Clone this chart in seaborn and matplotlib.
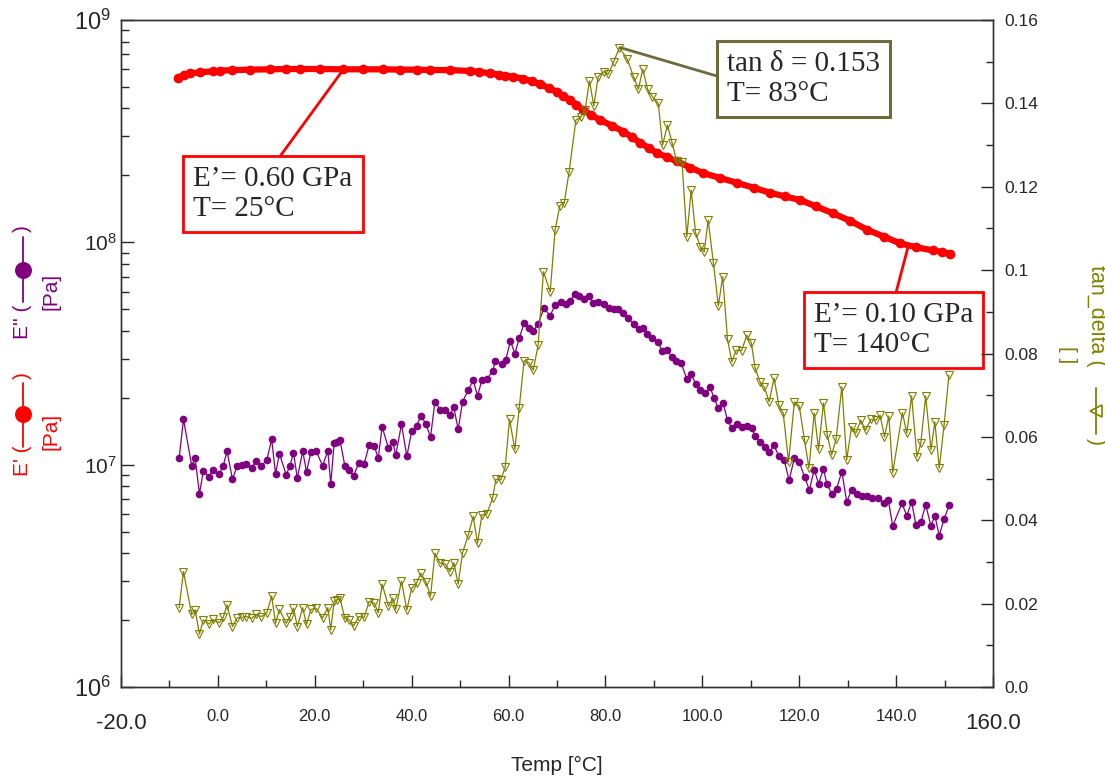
import matplotlib
matplotlib.use('Agg')
import matplotlib.pyplot as plt
import matplotlib.transforms as mtransforms
from matplotlib.lines import Line2D
from matplotlib.ticker import MultipleLocator, LogLocator, NullFormatter
import seaborn as sns

# ---- data ----
temp_store = [-8.2, -7.0, -5.8, -3.7, -1.0, 0.4, 3.0, 6.6, 10.8, 14.0, 17.0, 21.0, 25.8, 30.0,
              34.0, 37.6, 41.0, 43.8, 48.0, 52.0, 54.0, 56.2, 58.0, 59.3, 61.0, 63.0, 64.8, 66.5,
              68.3, 70.0, 71.3, 72.7, 74.0, 75.4, 77.0, 78.9, 81.3, 83.7, 85.5, 87.2, 89.0, 90.7,
              92.7, 94.8, 97.5, 100.1, 103.6, 107.2, 110.6, 114.0, 117.0, 120.2, 123.5, 127.0,
              130.5, 134.0, 137.5, 140.8, 144.2, 147.6, 149.5, 151.1]
e_store = [5.5e8, 5.65e8, 5.75e8, 5.82e8, 5.88e8, 5.92e8, 5.95e8, 5.98e8, 6.0e8, 6.02e8, 6.02e8,
           6.02e8, 6.0e8, 6.0e8, 6.0e8, 5.98e8, 5.98e8, 5.96e8, 5.95e8, 5.9e8, 5.85e8, 5.75e8,
           5.68e8, 5.62e8, 5.55e8, 5.45e8, 5.3e8, 5.15e8, 4.95e8, 4.75e8, 4.55e8, 4.37e8, 4.15e8,
           3.94e8, 3.75e8, 3.55e8, 3.35e8, 3.15e8, 2.97e8, 2.8e8, 2.65e8, 2.52e8, 2.42e8, 2.31e8,
           2.17e8, 2.05e8, 1.95e8, 1.85e8, 1.76e8, 1.67e8, 1.61e8, 1.55e8, 1.45e8, 1.35e8, 1.25e8,
           1.14e8, 1.06e8, 0.99e8, 0.95e8, 0.92e8, 0.905e8, 0.89e8]

temp_loss = [-8.0, -7.1, -5.4, -4.7, -3.8, -3.0, -1.8, -1.1, 0.3, 1.1, 1.9, 3.0, 4.0, 4.9, 5.8,
             7.0, 7.9, 9.0, 10.1, 11.1, 11.9, 12.7, 14.1, 14.9, 15.6, 16.4, 17.5, 18.3, 19.2, 20.3,
             21.6, 22.7, 23.3, 24.0, 24.5, 25.2, 26.2, 27.1, 28.0, 29.1, 30.2, 31.2, 32.3, 33.1,
             33.9, 35.2, 36.1, 36.7, 37.9, 39.0, 40.0, 41.0, 41.9, 42.9, 43.9, 44.8, 45.9, 46.9,
             47.9, 48.7, 49.6, 50.5, 51.7, 52.7, 53.6, 54.5, 55.6, 56.7, 57.3, 58.6, 59.4, 60.4,
             61.3, 62.2, 63.2, 64.2, 65.1, 66.1, 67.3, 68.6, 69.6, 70.8, 71.8, 72.7, 73.7, 74.6,
             75.6, 76.6, 77.5, 78.5, 79.7, 80.8, 81.8, 82.6, 83.7, 84.6, 85.8, 86.9, 87.7, 88.5,
             89.6, 90.8, 91.7, 92.8, 93.7, 94.6, 95.6, 96.8, 97.7, 98.6, 99.5, 100.6, 101.6, 102.4,
             103.3, 104.3, 105.2, 106.1, 107.1, 108.1, 109.2, 110.2, 110.9, 111.9, 113.0, 113.8,
             114.8, 115.8, 116.9, 117.9, 119.0, 120.0, 121.1, 122.1, 123.1, 124.0, 125.0, 125.7,
             126.7, 127.7, 128.8, 129.8, 130.8, 131.9, 133.0, 134.0, 135.1, 136.3, 137.4, 138.4,
             139.3, 141.2, 142.2, 143.2, 144.1, 145.1, 146.1, 147.2, 148.0, 148.9, 149.9, 151.0]
e_loss = [1.07e7, 1.6e7, 9.9e6, 1.07e7, 7.4e6, 9.4e6, 8.8e6, 9.5e6, 9.1e6, 9.9e6, 1.15e7, 8.6e6,
          9.9e6, 1.0e7, 1.01e7, 9.7e6, 1.04e7, 9.9e6, 1.05e7, 1.3e7, 9.1e6, 1.12e7, 9.0e6, 9.9e6,
          1.13e7, 8.7e6, 1.15e7, 9.3e6, 1.14e7, 1.15e7, 9.9e6, 1.15e7, 8.2e6, 1.25e7, 1.27e7,
          1.29e7, 9.9e6, 9.5e6, 8.9e6, 1.02e7, 1.01e7, 1.22e7, 1.21e7, 1.07e7, 1.48e7, 1.19e7,
          1.27e7, 1.10e7, 1.52e7, 1.09e7, 1.41e7, 1.49e7, 1.66e7, 1.53e7, 1.33e7, 1.92e7, 1.77e7,
          1.77e7, 1.68e7, 1.81e7, 1.44e7, 1.92e7, 2.17e7, 2.4e7, 2.04e7, 2.4e7, 2.43e7, 2.64e7,
          2.92e7, 2.85e7, 2.95e7, 3.6e7, 3.16e7, 3.7e7, 4.32e7, 4.13e7, 4.0e7, 4.29e7, 5.05e7,
          4.68e7, 5.23e7, 5.41e7, 5.28e7, 5.46e7, 5.85e7, 5.73e7, 5.54e7, 5.73e7, 5.32e7, 5.41e7,
          5.28e7, 5.05e7, 4.99e7, 4.99e7, 4.79e7, 4.55e7, 4.29e7, 4.06e7, 4.1e7, 3.89e7, 3.7e7,
          3.57e7, 3.25e7, 3.27e7, 3.05e7, 2.92e7, 2.88e7, 2.42e7, 2.57e7, 2.31e7, 2.17e7, 2.09e7,
          2.23e7, 2.0e7, 1.79e7, 1.89e7, 1.58e7, 1.46e7, 1.52e7, 1.48e7, 1.49e7, 1.46e7, 1.34e7,
          1.27e7, 1.2e7, 1.14e7, 1.22e7, 1.09e7, 1.05e7, 8.5e6, 1.07e7, 1.03e7, 8.8e6, 7.7e6,
          9.5e6, 8.2e6, 9.6e6, 8.2e6, 7.4e6, 7.8e6, 9.3e6, 6.8e6, 7.7e6, 7.4e6, 7.2e6, 7.2e6,
          7.1e6, 7.05e6, 6.7e6, 6.9e6, 5.3e6, 6.7e6, 5.9e6, 6.8e6, 5.35e6, 5.5e6, 6.6e6, 5.3e6,
          5.9e6, 4.8e6, 5.7e6, 6.6e6]

temp_tan = [-8.0, -7.1, -5.4, -4.7, -3.8, -3.0, -1.8, -1.1, 0.3, 1.1, 1.9, 3.0, 4.0, 4.9, 5.8,
            7.0, 7.9, 9.0, 10.1, 11.1, 11.9, 12.7, 14.1, 14.9, 15.6, 16.4, 17.5, 18.3, 19.2, 20.3,
            21.6, 22.7, 23.3, 24.0, 24.5, 25.2, 26.2, 27.1, 28.0, 29.1, 30.2, 31.2, 32.3, 33.1,
            33.9, 35.2, 36.1, 36.7, 37.9, 39.0, 40.0, 41.0, 41.9, 42.9, 43.9, 44.8, 45.9, 46.9,
            47.9, 48.7, 49.6, 50.5, 51.7, 52.7, 53.6, 54.5, 55.5, 56.7, 57.4, 58.4, 59.3, 60.2,
            61.3, 62.2, 63.2, 64.2, 65.1, 66.1, 67.2, 68.6, 69.6, 70.6, 71.5, 72.5, 73.9, 74.9,
            75.8, 76.7, 77.6, 78.5, 79.6, 80.6, 81.7, 82.9, 84.5, 85.8, 86.8, 87.7, 88.7, 89.7,
            90.9, 91.8, 92.8, 93.8, 94.7, 95.8, 96.8, 97.7, 98.6, 99.6, 100.4, 101.2, 102.3, 103.3,
            104.2, 105.2, 106.1, 107.0, 108.1, 109.2, 110.1, 110.9, 111.9, 112.8, 113.8, 114.8,
            115.8, 116.7, 117.8, 119.0, 120.0, 121.1, 122.0, 123.1, 124.0, 125.0, 125.8, 126.7,
            127.6, 128.8, 129.8, 130.8, 131.7, 132.7, 133.7, 134.8, 135.8, 136.7, 137.6, 138.5,
            139.3, 141.3, 142.2, 143.2, 144.3, 145.1, 146.1, 147.2, 148.0, 148.9, 149.9, 150.9]
tan_delta = [0.0190, 0.0277, 0.0174, 0.0185, 0.0127, 0.0161, 0.0151, 0.0162, 0.0154, 0.0167,
             0.0197, 0.0145, 0.0166, 0.0167, 0.0169, 0.0165, 0.0174, 0.0169, 0.0178, 0.0218,
             0.0153, 0.0186, 0.0153, 0.0169, 0.0189, 0.0145, 0.0190, 0.0150, 0.0186, 0.0189,
             0.0165, 0.0190, 0.0137, 0.0206, 0.0209, 0.0213, 0.0165, 0.0161, 0.0146, 0.0169,
             0.0167, 0.0205, 0.0201, 0.0178, 0.0247, 0.0194, 0.0213, 0.0186, 0.0254, 0.0185,
             0.0237, 0.0249, 0.0273, 0.0253, 0.0218, 0.0321, 0.0297, 0.0295, 0.0277, 0.0298,
             0.0247, 0.0322, 0.0365, 0.0409, 0.0345, 0.0413, 0.0415, 0.0453, 0.0499, 0.0497,
             0.0527, 0.0642, 0.0570, 0.0669, 0.0783, 0.0778, 0.0760, 0.0820, 0.0996, 0.0948,
             0.1096, 0.1155, 0.1162, 0.1236, 0.1360, 0.1367, 0.1384, 0.1454, 0.1394, 0.1464,
             0.1476, 0.1470, 0.1500, 0.1534, 0.1506, 0.1464, 0.1434, 0.1482, 0.1434, 0.1416,
             0.1400, 0.1300, 0.1348, 0.1304, 0.1262, 0.1260, 0.1080, 0.1192, 0.1090, 0.1056,
             0.1044, 0.1120, 0.1016, 0.0914, 0.0984, 0.0834, 0.0780, 0.0808, 0.0807, 0.0844,
             0.0826, 0.0765, 0.0732, 0.0719, 0.0684, 0.0741, 0.0676, 0.0657, 0.0540, 0.0684,
             0.0674, 0.0592, 0.0525, 0.0657, 0.0570, 0.0681, 0.0604, 0.0557, 0.0594, 0.0720,
             0.0545, 0.0624, 0.0609, 0.0640, 0.0616, 0.0642, 0.0640, 0.0652, 0.0600, 0.0650,
             0.0514, 0.0658, 0.0609, 0.0698, 0.0552, 0.0585, 0.0698, 0.0569, 0.0636, 0.0525,
             0.0628, 0.0748]

x_ticks = [-20, 0, 20, 40, 60, 80, 100, 120, 140, 160]
x_labels = ['-20.0', '0.0', '20.0', '40.0', '60.0', '80.0', '100.0', '120.0', '140.0', '160.0']
y_ticks = [1e6, 1e7, 1e8, 1e9]
y_labels = [r'$10^{6}$', r'$10^{7}$', r'$10^{8}$', r'$10^{9}$']
tan_ticks = [0.0, 0.02, 0.04, 0.06, 0.08, 0.10, 0.12, 0.14, 0.16]
tan_labels = ['0.0', '0.02', '0.04', '0.06', '0.08', '0.1', '0.12', '0.14', '0.16']

RED = '#ff0000'
PURPLE = '#800080'
OLIVE = '#808000'
BOXOLIVE = '#6b6b3c'

sns.set_style('ticks')
plt.rcParams['font.family'] = ['Liberation Sans', 'DejaVu Sans']
plt.rcParams['mathtext.fontset'] = 'custom'
plt.rcParams['mathtext.rm'] = 'Liberation Sans'
plt.rcParams['mathtext.it'] = 'Liberation Sans:italic'

W, H = 1105, 780
fig = plt.figure(figsize=(W / 100, H / 100), dpi=100)
ax = fig.add_axes([121 / W, 93 / H, 872 / W, 667 / H])
ax2 = ax.twinx()


def px(x, y):
    return x / W, 1 - y / H


sns.lineplot(x=temp_store, y=e_store, ax=ax, color=RED, lw=4.5, marker='o', markersize=7,
             markeredgewidth=0, estimator=None, sort=False, zorder=5)
sns.lineplot(x=temp_loss, y=e_loss, ax=ax, color=PURPLE, lw=0.9, marker='o', markersize=5.5,
             markeredgewidth=0, estimator=None, sort=False, zorder=4)
sns.lineplot(x=temp_tan, y=tan_delta, ax=ax2, color=OLIVE, lw=0.9, marker='v', markersize=6,
             markerfacecolor='none', markeredgecolor=OLIVE, markeredgewidth=0.8,
             estimator=None, sort=False)

ax.set_yscale('log')
ax.set_xlim(-20, 160)
ax.set_ylim(1e6, 1e9)
ax2.set_ylim(0, 0.16)

ax.set_xticks(x_ticks)
ax.set_xticklabels(x_labels)
ax.xaxis.set_minor_locator(MultipleLocator(10))
ax.set_yticks(y_ticks)
ax.set_yticklabels(y_labels)
ax.yaxis.set_minor_locator(LogLocator(base=10, subs=range(2, 10)))
ax.yaxis.set_minor_formatter(NullFormatter())
ax2.set_yticks(tan_ticks)
ax2.set_yticklabels(tan_labels)
ax2.yaxis.set_minor_locator(MultipleLocator(0.01))

ax.tick_params(axis='x', which='major', direction='in', length=9, width=1, pad=16,
               labelsize=12, top=False)
ax.tick_params(axis='x', which='minor', direction='in', length=5, width=1, top=False)
ax.tick_params(axis='y', which='major', direction='in', length=9, width=1, pad=3,
               labelsize=15, right=False)
ax.tick_params(axis='y', which='minor', direction='in', length=6, width=1, right=False)
ax2.tick_params(axis='y', which='major', direction='in', length=9, width=1, pad=8,
                labelsize=12.5, left=False)
ax2.tick_params(axis='y', which='minor', direction='in', length=5, width=1, left=False)

for a in (ax, ax2):
    for s in a.spines.values():
        s.set_color('#333333')
        s.set_linewidth(1)
    a.set_xlabel('')
    a.set_ylabel('')
ax2.grid(False)

# the end labels of the reference are bigger and pushed outward
xl = ax.get_xticklabels()
for lbl in (xl[0], xl[-1]):
    lbl.set_fontsize(16)
    lbl.set_transform(lbl.get_transform() + mtransforms.ScaledTranslation(0, -0.04, fig.dpi_scale_trans))
yl = ax.get_yticklabels()
for lbl in (yl[0], yl[-1]):
    lbl.set_fontsize(17)
    lbl.set_transform(lbl.get_transform() + mtransforms.ScaledTranslation(-0.06, 0, fig.dpi_scale_trans))

fig.text(*px(557, 765), 'Temp [°C]', fontsize=15, ha='center', va='center')


# axis titles carry a small line+marker symbol like the original software
def symbol(x, y0, y1, ym, color, marker, ms):
    fig.add_artist(Line2D([x / W, x / W], [1 - y0 / H, 1 - y1 / H], transform=fig.transFigure,
                          color=color, lw=1.3))
    fig.add_artist(Line2D([x / W], [1 - ym / H], transform=fig.transFigure, color=color,
                          marker=marker, markersize=ms,
                          markerfacecolor=color if marker == 'o' else 'none',
                          markeredgecolor=color, markeredgewidth=1.2, lw=0))


fig.text(*px(22, 322), "E'' (", rotation=90, color=PURPLE, fontsize=15, ha='center', va='center')
symbol(22.7, 302, 237, 270, PURPLE, 'o', 11)
fig.text(*px(22, 229), ")", rotation=90, color=PURPLE, fontsize=15, ha='center', va='center')
fig.text(*px(51, 291), "[Pa]", rotation=90, color=PURPLE, fontsize=15, ha='center', va='center')

fig.text(*px(22, 461), "E' (", rotation=90, color=RED, fontsize=15, ha='center', va='center')
symbol(22.7, 447, 383, 414, RED, 'o', 11)
fig.text(*px(22, 376), ")", rotation=90, color=RED, fontsize=15, ha='center', va='center')
fig.text(*px(51, 431), "[Pa]", rotation=90, color=RED, fontsize=15, ha='center', va='center')

fig.text(*px(1096, 316), "tan_delta (", rotation=270, color=OLIVE, fontsize=15.5,
         ha='center', va='center')
symbol(1096, 388, 434, 411, OLIVE, '<', 9)
fig.text(*px(1096, 442), ")", rotation=270, color=OLIVE, fontsize=15.5, ha='center', va='center')
fig.text(*px(1067, 355), "[ ]", rotation=270, color=OLIVE, fontsize=15, ha='center', va='center')

# annotation boxes
serif = ['Liberation Serif', 'DejaVu Serif']
box_kw = dict(textcoords='figure pixels', family=serif, fontsize=21, ha='center', va='center',
              multialignment='left', linespacing=1.2, zorder=10)
ax.annotate("E\u2019= 0.60 GPa\nT= 25°C", xy=(25.8, 5.95e8), xycoords='data',
            xytext=(273, H - 194),
            bbox=dict(boxstyle='square,pad=0.35', fc='white', ec=RED, lw=2),
            arrowprops=dict(arrowstyle='-', color=RED, lw=2, relpos=(0.5, 1), shrinkA=0, shrinkB=0),
            **box_kw)
ax.annotate("E\u2019= 0.10 GPa\nT= 140°C", xy=(142.5, 9.6e7), xycoords='data',
            xytext=(893.5, H - 330),
            bbox=dict(boxstyle='square,pad=0.35', fc='white', ec=RED, lw=2),
            arrowprops=dict(arrowstyle='-', color=RED, lw=2, relpos=(0.5, 1), shrinkA=0, shrinkB=0),
            **box_kw)
ax2.annotate("tan \u03b4 = 0.153\nT= 83°C", xy=(83.0, 0.1534), xycoords='data',
             xytext=(803.5, H - 79),
             bbox=dict(boxstyle='square,pad=0.35', fc='white', ec=BOXOLIVE, lw=2.2),
             arrowprops=dict(arrowstyle='-', color=BOXOLIVE, lw=2, relpos=(0, 0.5),
                             shrinkA=0, shrinkB=0),
             **box_kw)

fig.savefig('out.png', dpi=100)
